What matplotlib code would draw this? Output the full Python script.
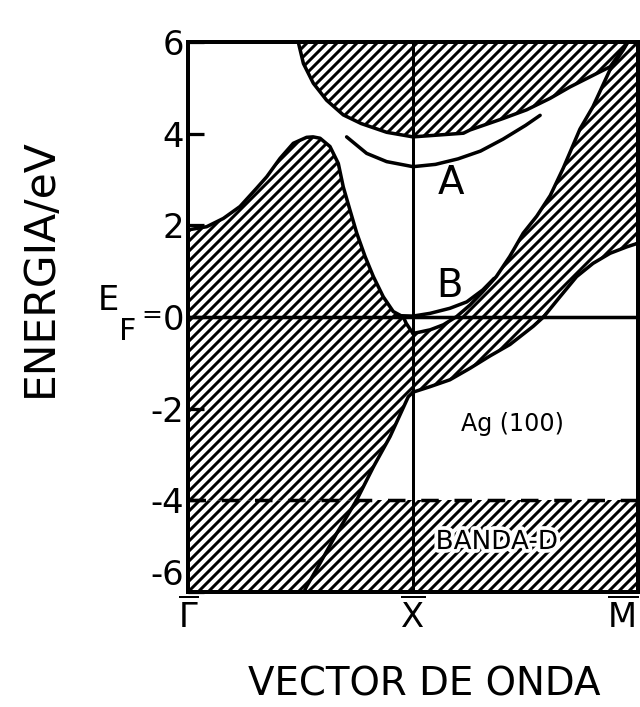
import matplotlib
matplotlib.use('Agg')
import matplotlib.pyplot as plt
import matplotlib.patheffects as pe
import numpy as np

DPI = 90
plt.rcParams['font.family'] = ['DejaVu Sans']
plt.rcParams['mathtext.fontset'] = 'dejavusans'
plt.rcParams['hatch.linewidth'] = 2.4
plt.rcParams['hatch.color'] = 'black'

# k-path: Gamma=0, X=1, M=2 ; energies in eV relative to E_F
K_TICKS = [0, 1, 2]
K_LABELS = [r'$\overline{\Gamma}$', r'$\overline{\mathrm{X}}$', r'$\overline{\mathrm{M}}$']
E_TICKS = [6, 4, 2, 0, -2, -4, -6]
E_LABELS = ['6', '4', '2', '0', '-2', '-4', '-6']
D_TOP = -4.0

# upper edge of the projected bulk band, Gamma -> X
band1_k = [0.0, 0.083, 0.157, 0.231, 0.305, 0.35, 0.409, 0.468, 0.527, 0.556, 0.587, 0.631, 0.668,
           0.69, 0.72, 0.75, 0.787, 0.824, 0.868, 0.912, 0.957, 0.97, 1.0]
band1_e = [1.90, 1.97, 2.15, 2.41, 2.81, 3.06, 3.46, 3.79, 3.92, 3.93, 3.90, 3.72, 3.35,
           2.84, 2.33, 1.83, 1.32, 0.88, 0.44, 0.12, 0.0, -0.14, -0.36]

# lower sp band edge (bottom of gap near X, runs down to the d band)
sp_k = [1.0, 0.979, 0.898, 0.824, 0.75, 0.661, 0.587, 0.527, 0.515]
sp_e = [-1.64, -1.74, -2.61, -3.27, -3.99, -4.72, -5.37, -5.88, -6.0]

# X -> M: upper edge of the lower band
upper_k = [1.0, 1.076, 1.135, 1.194, 1.253, 1.31, 1.37, 1.43, 1.49, 1.55, 1.61, 1.668, 1.742,
           1.80, 1.876, 1.935, 1.955]
upper_e = [-0.36, -0.28, -0.17, 0.01, 0.26, 0.55, 0.88, 1.32, 1.83, 2.2, 2.65, 3.25, 4.1,
           4.59, 5.4, 5.83, 6.0]

# X -> M: lower edge of the same band
lower_k = [1.0, 1.076, 1.164, 1.253, 1.342, 1.431, 1.535, 1.58, 1.653, 1.727, 1.80, 1.876, 1.95, 2.0]
lower_e = [-1.64, -1.52, -1.37, -1.12, -0.85, -0.6, -0.2, 0.0, 0.44, 0.88, 1.17, 1.39, 1.53, 1.61]

# bottom of the upper bulk band
top_k = [0.49, 0.513, 0.557, 0.616, 0.69, 0.77, 0.883, 1.0, 1.224, 1.253, 1.40, 1.505, 1.609,
         1.698, 1.787, 1.876, 1.955]
top_e = [6.0, 5.53, 5.10, 4.73, 4.41, 4.22, 4.03, 3.93, 4.01, 4.08, 4.33, 4.52, 4.77,
         5.02, 5.24, 5.46, 6.0]

# surface states
stateA_k = [0.705, 0.794, 0.883, 1.0, 1.1, 1.2, 1.3, 1.4, 1.5, 1.565]
stateA_e = [3.93, 3.57, 3.39, 3.28, 3.33, 3.45, 3.62, 3.88, 4.18, 4.40]
stateB_k = [0.93, 1.0, 1.076, 1.164, 1.239, 1.31, 1.36]
stateB_e = [0.03, 0.02, 0.08, 0.19, 0.33, 0.59, 0.84]

LW = 2.8
hatch_kw = dict(facecolor='white', edgecolor='black', hatch='///', linewidth=0, zorder=1)

fig = plt.figure(figsize=(640 / DPI, 707 / DPI), dpi=DPI)
ax = fig.add_axes([188 / 640, 115 / 707, 450 / 640, 550 / 707])
ax.set_xlim(0, 2)
ax.set_ylim(-6, 6)

# d band
ax.fill([0, 2, 2, 0], [-6, -6, D_TOP, D_TOP], **hatch_kw)

# Gamma-side bulk band, with the empty wedge between the sp band and X
keep = [i for i, e in enumerate(sp_e) if e > D_TOP]
poly_k = [0.0] + band1_k + [sp_k[i] for i in keep]
poly_e = [D_TOP] + band1_e + [sp_e[i] for i in keep]
poly_k.append(sp_k[keep[-1]])
poly_e.append(D_TOP)
ax.fill(poly_k, poly_e, **hatch_kw)

# X-M band
ax.fill(upper_k + [2.0, 2.0] + lower_k[::-1], upper_e + [6.0, lower_e[-1]] + lower_e[::-1], **hatch_kw)

# upper band
ax.fill(top_k, top_e, **hatch_kw)

for k, e in [(band1_k, band1_e), (sp_k, sp_e), (upper_k, upper_e), (lower_k, lower_e),
             (top_k, top_e), (stateA_k, stateA_e), (stateB_k, stateB_e)]:
    ax.plot(k, e, color='black', lw=LW, solid_capstyle='round', solid_joinstyle='round', zorder=3)

ax.axhline(0, color='black', lw=2.8, zorder=3)
ax.axvline(1, color='black', lw=2.4, zorder=3)
ax.axhline(D_TOP, color='black', lw=LW, dashes=(5, 4.5), zorder=3)

ax.text(1.169, 2.92, 'A', fontsize=31, ha='center', va='center', zorder=4)
ax.text(1.164, 0.68, 'B', fontsize=31, ha='center', va='center', zorder=4)
ax.text(1.44, -2.34, 'Ag (100)', fontsize=19, ha='center', va='center', zorder=4)
ax.text(1.373, -4.91, 'BANDA-D', fontsize=21, ha='center', va='center', zorder=4,
        path_effects=[pe.withStroke(linewidth=6, foreground='white')])

ax.set_yticks(E_TICKS)
ax.set_yticklabels(E_LABELS, fontsize=27)
ax.get_yticklabels()[-1].set_verticalalignment('bottom')
ax.set_xticks(K_TICKS)
ax.set_xticklabels(K_LABELS, fontsize=27)
ax.get_xticklabels()[-1].set_horizontalalignment('right')
ax.tick_params(axis='y', direction='in', length=13, width=2.6, pad=3)
ax.tick_params(axis='x', length=0, pad=4)
for sp in ax.spines.values():
    sp.set_linewidth(3.2)
    sp.set_zorder(5)

# "E_F =" in front of the zero tick
ax.annotate('E', xy=(0, 0), xytext=(-80, 16), textcoords='offset pixels', fontsize=27,
            ha='center', va='center', annotation_clip=False)
ax.annotate('F', xy=(0, 0), xytext=(-60, -14), textcoords='offset pixels', fontsize=24,
            ha='center', va='center', annotation_clip=False)
ax.annotate('=', xy=(0, 0), xytext=(-36, 2), textcoords='offset pixels', fontsize=20,
            ha='center', va='center', annotation_clip=False)

fig.text(424 / 640, 1 - 684 / 707, 'VECTOR DE ONDA', fontsize=31, ha='center', va='center')
fig.text(40 / 640, 1 - 268 / 707, 'ENERGIA/eV', fontsize=34, rotation=90, ha='center', va='center')

fig.savefig('out.png', dpi=DPI)
